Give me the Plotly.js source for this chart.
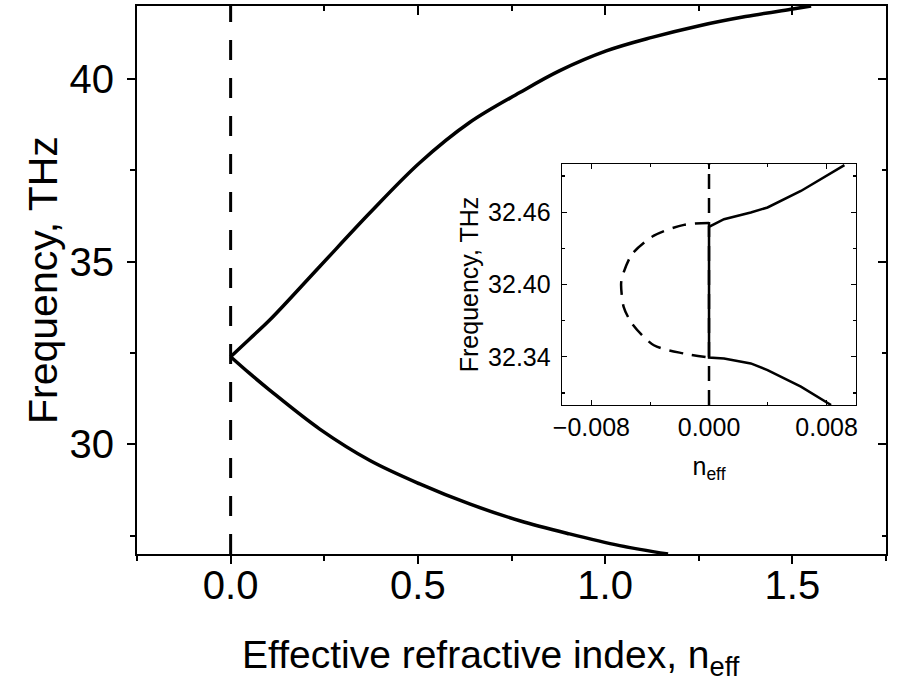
<!DOCTYPE html>
<html>
<head>
<meta charset="utf-8">
<script src="https://cdn.plot.ly/plotly-3.0.1.min.js"></script>
<style>html,body{margin:0;padding:0;background:#fff;}#plot{width:897px;height:687px;}</style>
</head>
<body>
<div id="plot"></div>
<script>
// Main plot data
const upperX = [0, 0.05, 0.105, 0.238, 0.372, 0.505, 0.638, 0.772, 0.879, 1.003, 1.125, 1.252, 1.375, 1.501, 1.55];
const upperY = [32.40, 32.88, 33.41, 34.87, 36.34, 37.71, 38.81, 39.63, 40.23, 40.77, 41.14, 41.46, 41.71, 41.92, 42.0];
const lowerX = [0, 0.05, 0.105, 0.238, 0.372, 0.505, 0.638, 0.772, 0.905, 1.039, 1.168];
const lowerY = [32.40, 31.95, 31.48, 30.42, 29.56, 28.92, 28.37, 27.91, 27.55, 27.23, 27.0];
const zeroLineX = [0, 0];
const zeroLineY = [27, 42];
const mainXRange = [-0.25, 1.75];
const mainYRange = [27, 42];

// Inset data
const insetDashX = [0, -0.0017, -0.00375, -0.00523, -0.00591, -0.00598, -0.0058, -0.00523, -0.00375, -0.0017, 0];
const insetDashY = [32.451, 32.4495, 32.4405, 32.4253, 32.4061, 32.40, 32.3813, 32.3675, 32.3496, 32.3427, 32.3394];
const insetSolidX = [0.00921, 0.00625, 0.00398, 0.00284, 0.00102, 0, 0, 0.00102, 0.00284, 0.00398, 0.00625, 0.0083];
const insetSolidY = [32.4991, 32.4776, 32.4639, 32.4597, 32.4542, 32.4479, 32.3394, 32.3386, 32.3345, 32.329, 32.3152, 32.30];
const insetZeroX = [0, 0];
const insetZeroY = [32.30, 32.50];

const FONT = 'Arial, "Liberation Sans", sans-serif';

// invisible helper traces so the mirror/label axes get drawn
const helper = (xa, ya) => ({x: [mainXRange[0]], y: [mainYRange[0]], xaxis: xa, yaxis: ya, mode: 'markers',
  marker: {opacity: 0, size: 1}, hoverinfo: 'skip', showlegend: false});

const traces = [
  {x: zeroLineX, y: zeroLineY, mode: 'lines', line: {color: '#000', width: 3, dash: '20px,18px'}, xaxis: 'x', yaxis: 'y', hoverinfo: 'skip'},
  {x: upperX, y: upperY, mode: 'lines', line: {color: '#000', width: 3.5, shape: 'spline', smoothing: 1}, xaxis: 'x', yaxis: 'y'},
  {x: lowerX, y: lowerY, mode: 'lines', line: {color: '#000', width: 3.5, shape: 'spline', smoothing: 1}, xaxis: 'x', yaxis: 'y'},
  {x: insetZeroX, y: insetZeroY, mode: 'lines', line: {color: '#000', width: 2.5, dash: '15px,9px'}, xaxis: 'x2', yaxis: 'y2'},
  {x: insetDashX, y: insetDashY, mode: 'lines', line: {color: '#000', width: 2.5, dash: '14px,9px', shape: 'spline', smoothing: 0.8}, xaxis: 'x2', yaxis: 'y2'},
  {x: insetSolidX, y: insetSolidY, mode: 'lines', line: {color: '#000', width: 2.5}, xaxis: 'x2', yaxis: 'y2'},
  helper('x3', 'y'), helper('x4', 'y'), helper('x', 'y3')
];

const layout = {
  width: 897, height: 687,
  margin: {l: 137, r: 11, t: 6, b: 133},
  paper_bgcolor: '#fff', plot_bgcolor: '#fff',
  showlegend: false,
  font: {family: FONT, color: '#000'},
  xaxis: {
    domain: [0, 1], range: mainXRange, anchor: 'y',
    showgrid: false, zeroline: false,
    showline: true, linecolor: '#000', linewidth: 2, mirror: true,
    ticks: 'outside', ticklen: 8, tickwidth: 2, tickcolor: '#000',
    tick0: 0, dtick: 0.5, showticklabels: false,
    minor: {ticks: 'outside', ticklen: 5, tickwidth: 2, tickcolor: '#000', dtick: 0.25, tick0: 0}
  },
  xaxis4: {
    overlaying: 'x', side: 'bottom', anchor: 'y', range: mainXRange,
    showgrid: false, zeroline: false, showline: false,
    ticks: '', tick0: 0, dtick: 0.5, tickformat: '.1f',
    tickfont: {size: 40, family: FONT}, ticklabelstandoff: 4
  },
  yaxis: {
    domain: [0, 1], range: mainYRange, anchor: 'x',
    showgrid: false, zeroline: false,
    showline: true, linecolor: '#000', linewidth: 2, mirror: true,
    ticks: 'outside', ticklen: 8, tickwidth: 2, tickcolor: '#000',
    tick0: 30, dtick: 5,
    minor: {ticks: 'outside', ticklen: 5, tickwidth: 2, tickcolor: '#000', dtick: 2.5, tick0: 30},
    tickfont: {size: 40, family: FONT},
    ticklabelstandoff: 5
  },
  xaxis3: {
    overlaying: 'x', side: 'top', anchor: 'y', range: mainXRange,
    showgrid: false, zeroline: false, showline: false, showticklabels: false,
    ticks: 'inside', ticklen: 9, tickwidth: 2, tickcolor: '#000', tick0: 0, dtick: 0.5,
    minor: {ticks: 'inside', ticklen: 5, tickwidth: 2, tickcolor: '#000', dtick: 0.25, tick0: 0}
  },
  yaxis3: {
    overlaying: 'y', side: 'right', anchor: 'x', range: mainYRange,
    showgrid: false, zeroline: false, showline: false, showticklabels: false,
    ticks: 'inside', ticklen: 8, tickwidth: 2, tickcolor: '#000', tick0: 30, dtick: 5,
    minor: {ticks: 'inside', ticklen: 4, tickwidth: 2, tickcolor: '#000', dtick: 2.5, tick0: 30}
  },
  xaxis2: {
    domain: [0.5674, 0.960], range: [-0.01, 0.01], anchor: 'y2',
    showgrid: false, zeroline: false,
    showline: true, linecolor: '#000', linewidth: 1.3, mirror: 'allticks',
    ticks: 'inside', ticklen: 5, tickwidth: 1.3, tickcolor: '#000',
    tick0: 0, dtick: 0.008, tickformat: '.3f',
    minor: {ticks: 'inside', ticklen: 3, tickwidth: 1.3, tickcolor: '#000', dtick: 0.004, tick0: 0},
    tickfont: {size: 25, family: FONT},
    ticklabelstandoff: 0,
    title: {text: 'n<sub>eff</sub>', font: {size: 25, family: FONT}, standoff: 17}
  },
  yaxis2: {
    domain: [0.2719, 0.7117], range: [32.30, 32.50], anchor: 'x2',
    showgrid: false, zeroline: false,
    showline: true, linecolor: '#000', linewidth: 1.3, mirror: 'allticks',
    ticks: 'inside', ticklen: 5, tickwidth: 1.3, tickcolor: '#000',
    tick0: 32.34, dtick: 0.06, tickformat: '.2f',
    minor: {ticks: 'inside', ticklen: 3, tickwidth: 1.3, tickcolor: '#000', dtick: 0.03, tick0: 32.34},
    tickfont: {size: 25, family: FONT},
    ticklabelstandoff: 5,
    title: {text: 'Frequency, THz', font: {size: 25, family: FONT}, standoff: 2}
  },
  annotations: [
    {xref: 'paper', yref: 'paper', x: 0.4726, y: -0.141, xanchor: 'center', yanchor: 'top', showarrow: false,
     text: 'Effective refractive index, n<sub>eff</sub>', font: {size: 39, family: FONT, color: '#000'}},
    {xref: 'paper', yref: 'paper', x: -0.1255, y: 0.5, xanchor: 'center', yanchor: 'middle', showarrow: false,
     textangle: -90, text: 'Frequency, THz', font: {size: 41, family: FONT, color: '#000'}}
  ]
};

Plotly.newPlot('plot', traces, layout, {staticPlot: true, displayModeBar: false});
</script>
</body>
</html>
